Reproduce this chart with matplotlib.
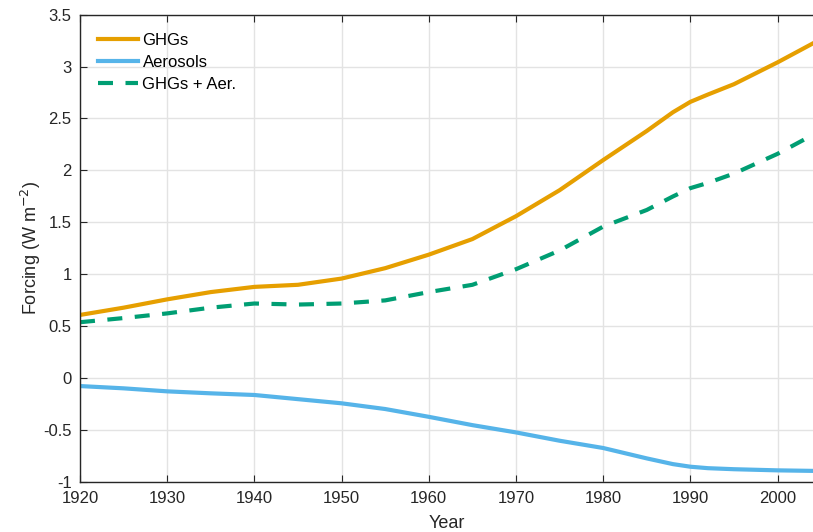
import matplotlib.pyplot as plt
from matplotlib.ticker import FuncFormatter

plt.rcParams['font.family'] = ['Liberation Sans', 'DejaVu Sans']
plt.rcParams['axes.unicode_minus'] = False

years = [1920, 1925, 1930, 1935, 1940, 1945, 1950, 1955, 1960, 1965,
         1970, 1975, 1980, 1985, 1988, 1990, 1992, 1995, 2000, 2004]
ghgs = [0.61, 0.68, 0.76, 0.83, 0.88, 0.90, 0.96, 1.06, 1.19, 1.34,
        1.56, 1.81, 2.10, 2.38, 2.56, 2.66, 2.73, 2.83, 3.04, 3.22]
aerosols = [-0.074, -0.096, -0.125, -0.144, -0.16, -0.20, -0.24, -0.295, -0.37, -0.45,
            -0.52, -0.60, -0.67, -0.77, -0.825, -0.85, -0.864, -0.874, -0.885, -0.89]
combined = [0.54, 0.58, 0.625, 0.68, 0.72, 0.71, 0.72, 0.75, 0.83, 0.90,
            1.05, 1.23, 1.46, 1.62, 1.75, 1.83, 1.88, 1.97, 2.16, 2.34]

fig = plt.figure(figsize=(8.13, 5.32), dpi=100)
ax = fig.add_axes([0.0984, 0.0934, 0.9016, 0.8793])

ax.plot(years, ghgs, color='#E69F00', lw=3, label='GHGs')
ax.plot(years, aerosols, color='#56B4E9', lw=3, label='Aerosols')
ax.plot(years, combined, color='#009E73', lw=3, dashes=(3.6, 3), label='GHGs + Aer.')

ax.set_xlim(1920, 2004.06)
ax.set_ylim(-1, 3.5)
ax.set_xticks(range(1920, 2001, 10))
ax.set_yticks([-1, -0.5, 0, 0.5, 1, 1.5, 2, 2.5, 3, 3.5])
ax.yaxis.set_major_formatter(FuncFormatter(lambda v, p: '%g' % v))

ax.grid(True, color='#e3e3e3', lw=1)
ax.set_axisbelow(True)
ax.tick_params(direction='in', top=True, right=False, length=5, pad=6, labelsize=12,
               color='#262626', labelcolor='#262626')
for s in ax.spines.values():
    s.set_color('#262626')
    s.set_linewidth(1)
ax.spines['right'].set_visible(False)

ax.set_xlabel('Year', fontsize=13, color='#262626', labelpad=7)
ax.set_ylabel('Forcing (W m$^{-2}$)', fontsize=13, color='#262626', labelpad=0)

ax.legend(loc='upper left', frameon=False, fontsize=12, handlelength=2.4,
          handletextpad=0.25, labelspacing=0.42, borderaxespad=0.8,
          borderpad=0.3)

fig.savefig('out.png', dpi=100)
